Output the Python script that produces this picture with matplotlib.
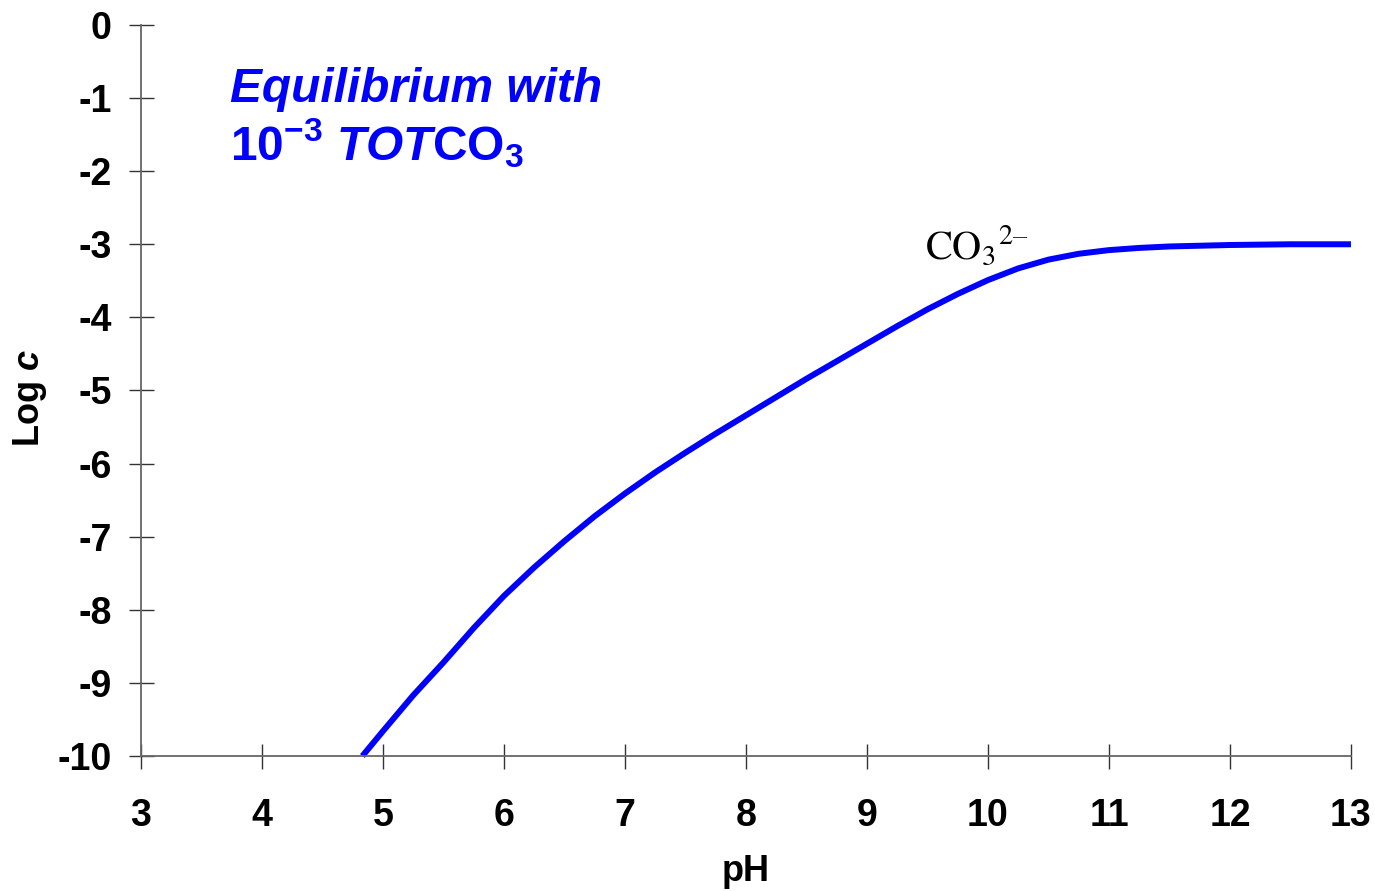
import matplotlib.pyplot as plt

# log concentration of carbonate vs pH for 1e-3 M total carbonate
ph = [4.83, 5.0, 5.25, 5.5, 5.75, 6.0, 6.25, 6.5, 6.75, 7.0, 7.25, 7.5,
      7.75, 8.0, 8.25, 8.5, 8.75, 9.0, 9.25, 9.5, 9.75, 10.0, 10.25,
      10.5, 10.75, 11.0, 11.25, 11.5, 12.0, 12.5, 13.0]
log_co3 = [-10.0, -9.66, -9.17, -8.72, -8.25, -7.81, -7.42, -7.06, -6.72,
           -6.41, -6.12, -5.85, -5.59, -5.34, -5.09, -4.84, -4.60, -4.36,
           -4.12, -3.89, -3.68, -3.49, -3.33, -3.21, -3.13, -3.08, -3.05,
           -3.03, -3.01, -3.00, -3.00]

x_ticks = list(range(3, 14))
y_ticks = list(range(-10, 1))

plt.rcParams['font.family'] = ['Liberation Sans', 'DejaVu Sans']
plt.rcParams['axes.unicode_minus'] = False
plt.rcParams['mathtext.fontset'] = 'custom'
plt.rcParams['mathtext.rm'] = 'Liberation Sans:bold'
plt.rcParams['mathtext.it'] = 'Liberation Sans:bold:italic'
plt.rcParams['mathtext.bf'] = 'Liberation Sans:bold'

fig = plt.figure(figsize=(13.75, 8.91), dpi=100)
ax = fig.add_axes([0.1025, 0.1515, 0.88, 0.8205])

ax.plot(ph, log_co3, color='#0000ff', lw=4.3, solid_capstyle='butt',
        solid_joinstyle='round', clip_on=False)

ax.set_xlim(3, 13)
ax.set_ylim(-10, 0)
ax.set_xticks(x_ticks)
ax.set_yticks(y_ticks)
ax.spines['top'].set_visible(False)
ax.spines['right'].set_visible(False)
for s in ('left', 'bottom'):
    ax.spines[s].set_color('#666666')
    ax.spines[s].set_linewidth(1.3)
ax.tick_params(axis='both', direction='inout', length=18, width=1.0,
               color='#333333', labelsize=27)
ax.tick_params(axis='x', pad=21)
ax.tick_params(axis='y', pad=12)
for lab in ax.get_xticklabels() + ax.get_yticklabels():
    lab.set_fontweight('bold')

# axis titles placed in figure coordinates
fig.text(0.5425, 0.002, 'pH', fontsize=26, fontweight='bold',
         ha='center', va='bottom')
fig.text(0.022, 0.553, r'Log $\mathit{c}$', fontsize=26, fontweight='bold',
         rotation=90, ha='center', va='center')

ax.text(0.074, 0.895, 'Equilibrium with', transform=ax.transAxes,
        color='#0000ff', fontsize=34.5, fontweight='bold', style='italic')
ax.text(0.074, 0.815, r'$10^{-3}$ $\mathit{TOT}\mathrm{CO_3}$',
        transform=ax.transAxes, color='#0000ff', fontsize=34.5)

ax.text(9.48, -3.21, r'$\mathrm{CO_3{}^{2–}}$', fontsize=29,
        math_fontfamily='stix', color='black')

fig.savefig('out.png', dpi=100)
